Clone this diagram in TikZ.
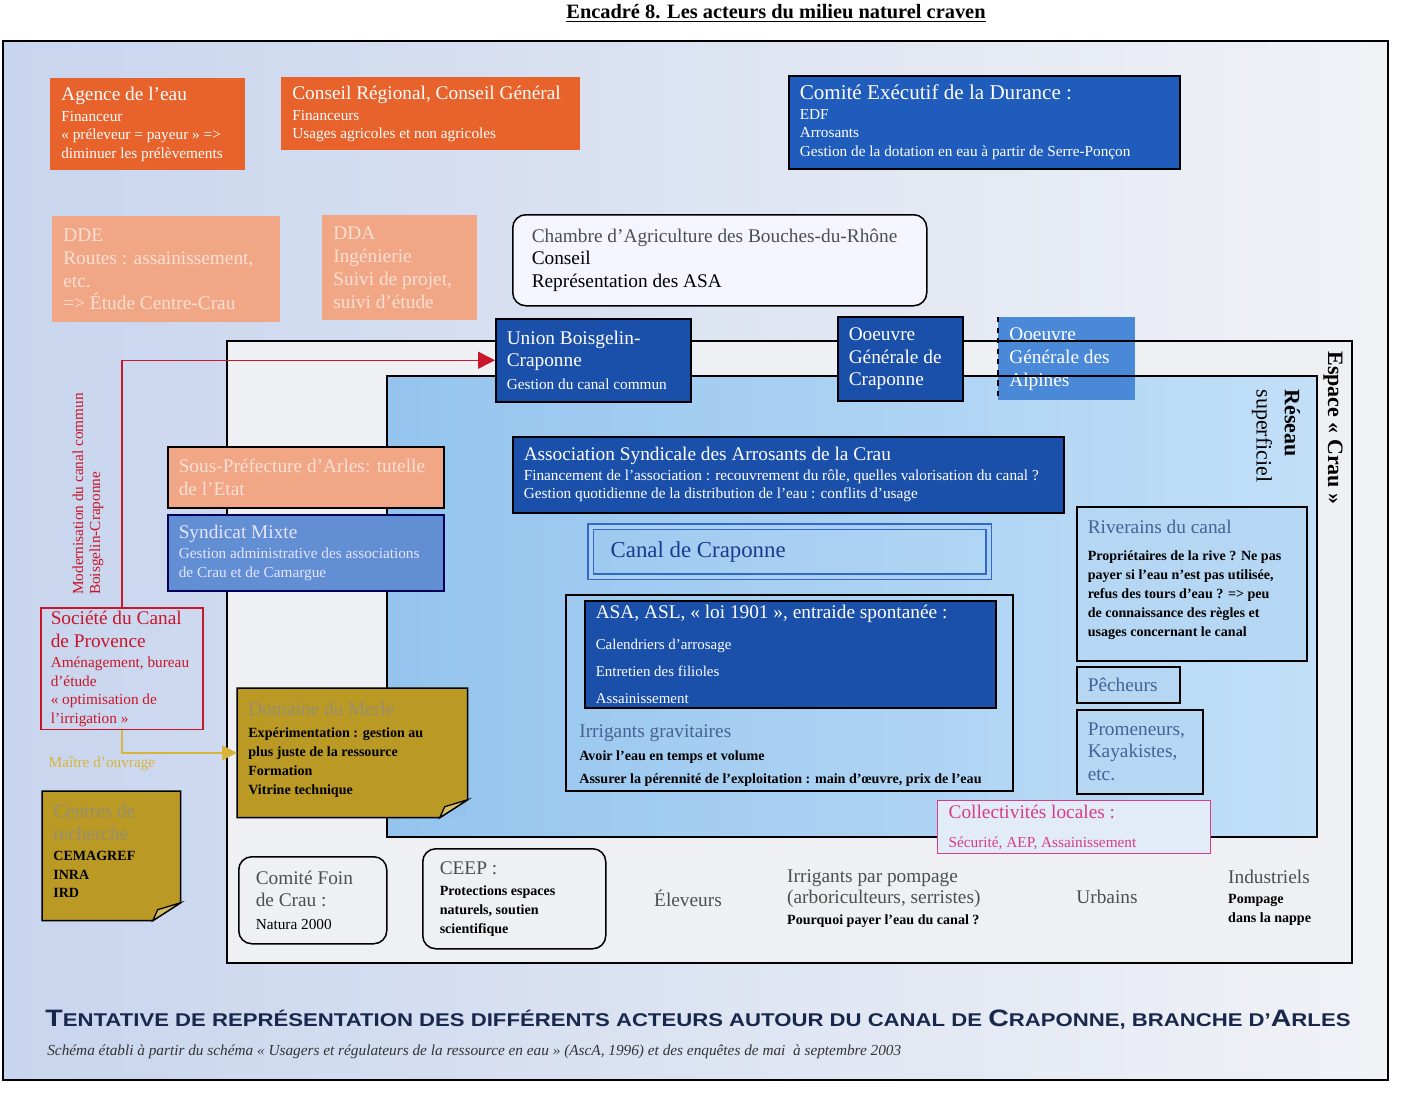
\documentclass[tikz,border=0pt]{standalone}
\usepackage{fontspec}
\usepackage{graphicx}
\setmainfont{Liberation Serif}
\newfontfamily\capfont{Liberation Sans}
\usetikzlibrary{arrows.meta,positioning}

\definecolor{orangeA}{RGB}{232,98,44}
\definecolor{salmonA}{RGB}{241,166,134}
\definecolor{salmonText}{RGB}{252,224,212}
\definecolor{blueDark}{RGB}{27,80,170}
\definecolor{blueComite}{RGB}{32,92,188}
\definecolor{blueAlp}{RGB}{74,136,216}
\definecolor{blueSynd}{RGB}{98,142,212}
\definecolor{lightBox}{RGB}{182,215,244}
\definecolor{goldA}{RGB}{186,154,36}
\definecolor{goldFold}{RGB}{214,190,96}
\definecolor{goldText}{RGB}{216,180,58}
\definecolor{redA}{RGB}{200,22,42}
\definecolor{magentaA}{RGB}{218,58,140}
\definecolor{collFill}{RGB}{226,236,246}
\definecolor{greyTitle}{RGB}{78,78,78}
\definecolor{steelText}{RGB}{70,98,148}
\definecolor{canalBlue}{RGB}{26,58,142}
\definecolor{canalLine}{RGB}{52,104,200}
\definecolor{canalGap}{RGB}{170,208,242}
\definecolor{bgLeft}{RGB}{200,213,238}
\definecolor{bgRight}{RGB}{241,242,246}
\definecolor{espFill}{RGB}{238,240,244}
\definecolor{resA}{RGB}{148,196,238}
\definecolor{resB}{RGB}{194,223,247}
\definecolor{navyCap}{RGB}{24,40,76}
\definecolor{faintGold}{RGB}{150,142,112}

\newcommand\fbig{\fontsize{11}{13}\selectfont}
\newcommand\fsm{\fontsize{8.7}{10.5}\selectfont}
\newcommand\fbold{\bfseries\fontsize{8}{10.8}\selectfont}
\newcommand\capinit[1]{{\fontsize{13.5}{14}\selectfont #1}}

\tikzset{
  actor/.style={anchor=north west, inner xsep=2.2mm, inner ysep=0.6mm, align=flush left, font=\fbig},
  orangebox/.style={actor, fill=orangeA, text=white},
  palebox/.style={actor, fill=salmonA, text=salmonText},
  bluebox/.style={actor, fill=blueDark, draw=black, line width=0.3mm, text=white},
  lightbox/.style={actor, fill=lightBox, draw=black, line width=0.3mm, text=steelText},
  roundbox/.style={actor, fill=espFill, draw=black, line width=0.3mm, rounded corners=2.6mm, inner xsep=3.4mm, text=greyTitle},
  notebox/.style={actor, fill=goldA, text=black, path picture={
      \fill[#1] (path picture bounding box.south east) ++(0,3.6mm) -- ++(-5.6mm,-3.6mm) -- ++(5.6mm,0) -- cycle;}},
  freetext/.style={align=left, font=\fbig, text=greyTitle},
  frameline/.style={draw=black, line width=0.3mm},
  redarrow/.style={draw=redA, line width=0.3mm, -{Triangle[length=3.4mm, width=3.4mm]}},
  goldarrow/.style={draw=goldText, line width=0.3mm, -{Triangle[length=3mm, width=3mm]}},
  fold/.style={fill=goldFold, draw=black, line width=0.25mm},
}

\begin{document}
\begin{tikzpicture}[x=0.2mm, y=-0.2mm]
\useasboundingbox (0,0) rectangle (1401,1095);

\coordinate (outerNW) at (3,41);
\coordinate (outerSE) at (1388,1080);
\coordinate (espNW) at (227,341);
\coordinate (espSE) at (1352,963);
\coordinate (resNW) at (387,376);
\coordinate (resSE) at (1317,837);

\shade[left color=bgLeft, right color=bgRight] (outerNW) rectangle (outerSE);
\fill[espFill] (espNW) rectangle (espSE);
\shade[left color=resA, right color=resB] (resNW) rectangle (resSE);

\path (998,317) node (alpines) [actor, fill=blueAlp, text=white, minimum width=27.4mm, minimum height=16.6mm, text width=23mm] {Ooeuvre\\Générale des\\Alpines};
\draw[dashed, line width=0.3mm] (alpines.north west) -- (alpines.south west);

\draw[frameline] (espNW) rectangle (espSE);
\draw[frameline] (resNW) rectangle (resSE);
\draw[line width=0.45mm] (outerNW) rectangle (outerSE);

\node (titre) [font=\bfseries\fontsize{11.6}{13}\selectfont] at (776,13) {\underline{Encadré 8. Les acteurs du milieu naturel craven}};

% financeurs et services de l'Etat
\path (50,78) node (agence) [orangebox, font=\fsm, minimum width=39mm, minimum height=18.4mm, text width=34.6mm] {{\fbig Agence de l’eau}\\[1.4pt] Financeur\\« préleveur = payeur » =>\\diminuer les prélèvements};
\path (281,77) node (conseil) [orangebox, font=\fsm, minimum width=59.8mm, minimum height=14.6mm, text width=55.4mm] {{\fbig Conseil Régional, Conseil Général}\\[1.4pt] Financeurs\\Usages agricoles et non agricoles};
\path (788,75) node (comite) [bluebox, fill=blueComite, font=\fsm, minimum width=78.2mm, minimum height=18.6mm, text width=73.8mm] {{\fontsize{12}{14}\selectfont Comité Exécutif de la Durance :}\\[0.6pt] EDF\\Arrosants\\Gestion de la dotation en eau à partir de Serre-Ponçon};
\path (52,216) node (dde) [palebox, minimum width=45.6mm, minimum height=21.2mm, text width=41.2mm] {DDE\\Routes : assainissement,\\etc.\\=> Étude Centre-Crau};
\path (322,215) node (dda) [palebox, minimum width=31mm, minimum height=21mm, text width=26.6mm] {DDA\\Ingénierie\\Suivi de projet,\\suivi d’étude};
\path (512,214) node (chambre) [roundbox, fill=white!96!blue, inner xsep=3.8mm, minimum width=82.8mm, minimum height=18.2mm, text width=75.2mm] {Chambre d’Agriculture des Bouches-du-Rhône\\\textcolor{black}{Conseil}\\\textcolor{black}{Représentation des ASA}};

% gestionnaires du canal
\path (495,318) node (union) [bluebox, minimum width=39mm, minimum height=16.6mm, text width=34.6mm] {Union Boisgelin-\\Craponne\\{\fsm Gestion du canal commun}};
\path (837,316) node (craponne) [bluebox, minimum width=25mm, minimum height=16.8mm, text width=20.6mm] {Ooeuvre\\Générale de\\Craponne};
\path (512,436) node (asac) [bluebox, font=\fsm, minimum width=110.2mm, minimum height=15.2mm, text width=105.8mm] {{\fbig Association Syndicale des Arrosants de la Crau}\\[0.8pt] Financement de l’association : recouvrement du rôle, quelles valorisation du canal ?\\Gestion quotidienne de la distribution de l’eau : conflits d’usage};
\path (590,526) node (canal) [actor, draw=canalLine, double=canalGap, double distance=0.8mm, line width=0.25mm, inner xsep=4mm, minimum width=79.6mm, minimum height=10mm, text width=71.6mm, text=canalBlue, font=\fontsize{13}{15}\selectfont] {Canal de Craponne};
\path (565,594) node (gravit) [actor, draw=black, line width=0.3mm, minimum width=89.4mm, minimum height=39.2mm] {};
\path (584,600) node (asa) [bluebox, font=\fontsize{8.5}{15.5}\selectfont, minimum width=82.2mm, minimum height=21.4mm, text width=77.8mm] {{\fbig ASA, ASL, « loi 1901 », entraide spontanée :}\\[2pt] Calendriers d’arrosage\\Entretien des filioles\\Assainissement};
\path (gravit.south west) node (gravtxt) [anchor=south west, align=left, inner xsep=2.8mm, inner ysep=1mm, font=\fbig, text=steelText] {Irrigants gravitaires\\{\color{black}\fbold Avoir l’eau en temps et volume}\\{\color{black}\fbold Assurer la pérennité de l’exploitation : main d’œuvre, prix de l’eau}};

% usagers du reseau
\path (1076,506) node (riverains) [lightbox, text=black, font=\fbold, minimum width=46mm, minimum height=30.8mm, text width=41.6mm] {{\fbig\mdseries\color{steelText}Riverains du canal}\\[5pt] Propriétaires de la rive ? Ne pas\\payer si l’eau n’est pas utilisée,\\refus des tours d’eau ? => peu\\de connaissance des règles et\\usages concernant le canal\par\vspace{1.6mm}};
\path (1076,666) node (pecheurs) [lightbox, minimum width=20.6mm, minimum height=7.2mm, text width=16.2mm] {Pêcheurs};
\path (1076,709) node (promeneurs) [lightbox, minimum width=25.2mm, minimum height=16.8mm, text width=20.8mm] {Promeneurs,\\Kayakistes,\\etc.};
\path (937,800) node (collect) [actor, fill=collFill, draw=magentaA, line width=0.25mm, text=magentaA, font=\fsm, minimum width=54.6mm, minimum height=10.6mm, text width=50.2mm] {{\fbig Collectivités locales :}\\[6pt] Sécurité, AEP, Assainissement};

% cote gauche
\path (167,446) node (souspref) [actor, fill=salmonA, draw=black, line width=0.3mm, text=salmonText, minimum width=55.2mm, minimum height=12.2mm, text width=50.8mm] {Sous-Préfecture d’Arles: tutelle\\de l’Etat};
\path (167,514) node (syndicat) [actor, fill=blueSynd, draw=blue!35!black, line width=0.3mm, text=white!90!blue, font=\fsm, minimum width=55.2mm, minimum height=15.2mm, text width=50.8mm] {{\fbig Syndicat Mixte}\\[1.2pt] Gestion administrative des associations\\de Crau et de Camargue};
\path (40,607) node (scp) [actor, draw=redA, line width=0.3mm, text=redA, font=\fsm, inner xsep=2mm, minimum width=32.4mm, minimum height=24.2mm, text width=28.4mm] {{\fbig Société du Canal}\\[2.5pt] {\fbig de Provence}\\[1.4pt] Aménagement, bureau\\d’étude\\« optimisation de\\l’irrigation »};
\path (237,688) node (merle) [notebox=resA, font=\fbold, minimum width=46mm, minimum height=25.8mm, text width=41.6mm] {{\fbig\mdseries\color{faintGold}Domaine du Merle}\\[1.6pt] Expérimentation : gestion au\\plus juste de la ressource\\Formation\\Vitrine technique\par\vspace{1.2mm}};
\draw[line width=0.3mm] (merle.north west) -- (merle.north east) -- ([yshift=3.6mm]merle.south east) -- ([xshift=-5.6mm]merle.south east) -- (merle.south west) -- cycle;
\filldraw[fold] ([yshift=3.6mm]merle.south east) -- ([xshift=-5.6mm]merle.south east) -- ([shift={(-4.6mm,2.2mm)}]merle.south east) -- cycle;
\path (42,791) node (centres) [notebox=bgLeft!88!bgRight, font=\bfseries\fontsize{8}{10.5}\selectfont, minimum width=27.6mm, minimum height=25.8mm, text width=23.2mm] {{\fbig\mdseries\color{faintGold}Centres de}\\[2.5pt] {\fbig\mdseries\color{faintGold}recherche}\\[1.4pt] CEMAGREF\\INRA\\IRD\par\vspace{2mm}};
\draw[line width=0.3mm] (centres.north west) -- (centres.north east) -- ([yshift=3.6mm]centres.south east) -- ([xshift=-5.6mm]centres.south east) -- (centres.south west) -- cycle;
\filldraw[fold] ([yshift=3.6mm]centres.south east) -- ([xshift=-5.6mm]centres.south east) -- ([shift={(-4.6mm,2.2mm)}]centres.south east) -- cycle;

\path (88,494) node (modern) [rotate=90, align=left, text=redA, font=\fontsize{8.7}{9.6}\selectfont] {Modernisation du canal commun\\Boisgelin-Craponne};
\draw[redarrow] (scp.north) |- (union.west);
\draw[goldarrow] (scp.south) |- (merle.west);
\path (102,764) node (maitre) [text=goldText, font=\fsm] {Maître d’ouvrage};

% bas de l'espace Crau
\path (238,856) node (foin) [roundbox, minimum width=29.6mm, minimum height=17.4mm, text width=22.8mm] {Comité Foin\\de Crau :\\{\color{black}\fsm Natura 2000}};
\path (422,848) node (ceep) [roundbox, text=black, font=\fbold, minimum width=36.6mm, minimum height=20mm, text width=29.8mm] {{\fbig\mdseries\color{greyTitle}CEEP :}\\[1.2pt] Protections espaces\\naturels, soutien\\scientifique};
\path (688,898) node (eleveurs) [freetext] {Éleveurs};
\path (781,899) node (pompage) [freetext, anchor=west, font=\fontsize{11}{12}\selectfont] {Irrigants par pompage\\(arboriculteurs, serristes)\\{\color{black}\fbold Pourquoi payer l’eau du canal ?}};
\path (1107,897) node (urbains) [freetext] {Urbains};
\path (1222,898) node (industriels) [freetext, anchor=west, font=\fontsize{11}{11}\selectfont] {Industriels\\{\color{black}\fbold Pompage}\\{\color{black}\fbold dans la nappe}};

\path (1333,428) node (espace) [rotate=-90, font=\bfseries\fontsize{12.5}{14}\selectfont] {Espace « Crau »};
\path (1276,436) node (reseau) [rotate=-90, align=left, font=\fontsize{12.5}{16}\selectfont] {\textbf{Réseau}\\superficiel};

\path (698,1020) node (legende) [text=navyCap, font=\capfont\bfseries\fontsize{10.5}{12}\selectfont] {\scalebox{1.2}[1]{\capinit{T}ENTATIVE DE REPRÉSENTATION DES DIFFÉRENTS ACTEURS AUTOUR DU CANAL DE \capinit{C}RAPONNE, BRANCHE D’\capinit{A}RLES}};
\path (47,1052) node (source) [anchor=west, inner xsep=0pt, text=black!80, font=\itshape\fontsize{8.7}{10}\selectfont] {Schéma établi à partir du schéma « Usagers et régulateurs de la ressource en eau » (AscA, 1996) et des enquêtes de mai~ à septembre 2003};
\end{tikzpicture}
\end{document}
